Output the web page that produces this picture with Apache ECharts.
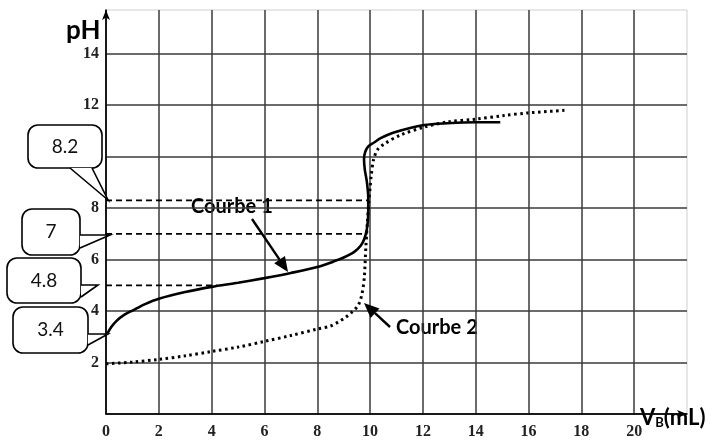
<!DOCTYPE html>
<html>
<head>
<meta charset="utf-8">
<script src="https://cdn.jsdelivr.net/npm/echarts@6/dist/echarts.min.js"></script>
<style>
  html, body { margin: 0; padding: 0; background: #fff; }
  #chart { width: 727px; height: 446px; }
</style>
</head>
<body>
<div id="chart"></div>
<script>
  // Courbe 1 (solid): [V_B (mL), pH]
  const courbe1 = [
    [0.05, 3.12], [0.2, 3.38], [0.4, 3.62], [0.7, 3.86], [1, 4.02], [1.5, 4.28],
    [2, 4.48], [3, 4.74], [4, 4.94], [5, 5.1], [6, 5.28], [7, 5.48], [8, 5.71],
    [8.6, 5.92], [9.0, 6.08], [9.4, 6.3], [9.65, 6.55], [9.78, 6.8], [9.88, 7.2],
    [9.93, 7.8], [9.93, 8.4], [9.88, 9.0], [9.8, 9.5], [9.77, 9.9], [9.82, 10.2],
    [9.95, 10.42], [10.15, 10.55], [10.4, 10.72], [10.9, 10.94], [12.05, 11.23],
    [12.93, 11.3], [14, 11.34], [14.93, 11.34]
  ];

  // Courbe 2 (dotted): [V_B (mL), pH]
  const courbe2 = [
    [0, 1.95], [1, 2.02], [2, 2.12], [3, 2.26], [4, 2.43], [5, 2.6], [6, 2.82],
    [7, 3.05], [8, 3.3], [8.5, 3.42], [8.8, 3.58], [9.1, 3.78], [9.3, 3.95],
    [9.5, 4.15], [9.6, 4.33], [9.7, 4.7], [9.78, 5.3], [9.84, 6.5], [9.9, 7.5],
    [9.94, 8.1], [10.0, 8.8], [10.04, 9.24], [10.13, 9.88], [10.28, 10.27],
    [10.54, 10.5], [11.17, 10.85], [12.05, 11.15], [12.93, 11.35], [14, 11.46],
    [15.08, 11.6], [15.97, 11.7], [17.36, 11.8]
  ];

  // pointillés de lecture : [pH, V_B de fin]
  const readLines = [[8.3, 9.95], [7, 9.9], [5, 4.2]];

  // étiquettes des bulles
  const calloutLabels = ['8.2', '7', '4.8', '3.4'];

  const xTicks = [0, 2, 4, 6, 8, 10, 12, 14, 16, 18, 20];
  const yTicks = [2, 4, 6, 8, 10, 12, 14];

  const chart = echarts.init(document.getElementById('chart'));

  // bulle : rectangle arrondi + queue
  function callout(text, box, base, tip) {
    return [
      {
        type: 'rect', z: 100,
        shape: {x: box[0], y: box[1], width: box[2], height: box[3], r: 10},
        style: {fill: '#fff', stroke: '#000', lineWidth: 1.6}
      },
      {
        type: 'polygon', z: 101,
        shape: {points: [base[0], tip, base[1]]},
        style: {fill: '#fff', stroke: null}
      },
      {
        type: 'polyline', z: 102,
        shape: {points: [base[0], tip, base[1]]},
        style: {fill: null, stroke: '#000', lineWidth: 1.6}
      },
      {
        type: 'text', z: 103,
        x: box[0] + box[2] / 2, y: box[1] + box[3] / 2,
        style: {
          text: text, fill: '#111', font: '19px Lato',
          textAlign: 'center', textVerticalAlign: 'middle'
        }
      }
    ];
  }

  // flèche : trait + pointe
  function arrow(from, to) {
    const dx = to[0] - from[0], dy = to[1] - from[1];
    const len = Math.sqrt(dx * dx + dy * dy);
    const ux = dx / len, uy = dy / len;
    const hl = 15, hw = 6.5;
    const bx = to[0] - ux * hl, by = to[1] - uy * hl;
    return [
      {
        type: 'line', z: 90,
        shape: {x1: from[0], y1: from[1], x2: bx, y2: by},
        style: {stroke: '#000', lineWidth: 2.4}
      },
      {
        type: 'polygon', z: 90,
        shape: {points: [to, [bx - uy * hw, by + ux * hw], [bx + uy * hw, by - ux * hw]]},
        style: {fill: '#000'}
      }
    ];
  }

  const dashedSeries = readLines.map(r => ({
    type: 'line',
    data: [[0, r[0]], [r[1], r[0]]],
    symbol: 'none',
    silent: true,
    z: 3,
    lineStyle: {color: '#000', width: 1.8, type: [6, 4]}
  }));

  chart.setOption({
    animation: false,
    backgroundColor: '#fff',
    grid: {
      left: 106, right: 40, top: 10, bottom: 32,
      show: true, borderColor: '#cfcfcf', borderWidth: 1
    },
    xAxis: {
      type: 'value',
      min: 0, max: 22, interval: 2,
      axisLine: {
        onZero: false,
        lineStyle: {color: '#000', width: 1.5},
        symbol: ['none', 'arrow'], symbolSize: [6, 10]
      },
      axisTick: {show: false},
      splitLine: {show: true, showMaxLine: false, lineStyle: {color: '#3a3a3a', width: 1.5}},
      axisLabel: {
        margin: 10,
        fontFamily: 'Liberation Serif', fontWeight: 'bold', fontSize: 16, color: '#222',
        formatter: v => xTicks.indexOf(v) >= 0 ? String(v) : ''
      }
    },
    yAxis: {
      type: 'value',
      min: 0, max: 15.7, interval: 2,
      axisLine: {
        onZero: false,
        lineStyle: {color: '#000', width: 1.5},
        symbol: ['none', 'arrow'], symbolSize: [6, 10]
      },
      axisTick: {show: false},
      splitLine: {show: true, showMaxLine: false, lineStyle: {color: '#3a3a3a', width: 1.5}},
      axisLabel: {
        margin: 7, showMinLabel: false,
        fontFamily: 'Liberation Serif', fontWeight: 'bold', fontSize: 16, color: '#222',
        formatter: v => yTicks.indexOf(v) >= 0 ? String(v) : ''
      }
    },
    series: [
      {
        name: 'Courbe 1',
        type: 'line',
        data: courbe1,
        symbol: 'none',
        smooth: 0.3,
        z: 5,
        lineStyle: {color: '#000', width: 2.6}
      },
      {
        name: 'Courbe 2',
        type: 'line',
        data: courbe2,
        symbol: 'none',
        smooth: 0.3,
        z: 4,
        lineStyle: {color: '#000', width: 3, type: [2.5, 3.5], cap: 'butt'}
      }
    ].concat(dashedSeries),
    graphic: [
      {
        type: 'text', left: 66, top: 18,
        style: {text: 'pH', font: 'bold 26px Lato', fill: '#000'}
      },
      {
        type: 'text', left: 640, top: 407,
        style: {
          text: '{v|V}{s|B}{v|(mL)}',
          rich: {
            v: {font: 'bold 22px Lato', fill: '#000'},
            s: {font: 'bold 13px Lato', fill: '#000', verticalAlign: 'bottom', padding: [9, 0, 0, 0]}
          }
        }
      },
      {
        type: 'text', left: 191, top: 197,
        style: {text: 'Courbe 1', font: 'bold 20px Lato', fill: '#000'}
      },
      {
        type: 'text', left: 396, top: 318,
        style: {text: 'Courbe 2', font: 'bold 20px Lato', fill: '#000'}
      }
    ]
      .concat(arrow([252, 219], [288, 272]))
      .concat(arrow([390, 327], [364, 303]))
      .concat(callout(calloutLabels[0], [28, 125, 74, 43], [[70, 168], [92, 168]], [108, 200]))
      .concat(callout(calloutLabels[1], [22, 209, 58, 46], [[80, 235], [80, 248]], [110, 235]))
      .concat(callout(calloutLabels[2], [7, 258, 74, 45], [[81, 285], [81, 297]], [98, 285]))
      .concat(callout(calloutLabels[3], [13, 307, 75, 46], [[88, 334], [88, 345]], [108, 334]))
  });
</script>
</body>
</html>
